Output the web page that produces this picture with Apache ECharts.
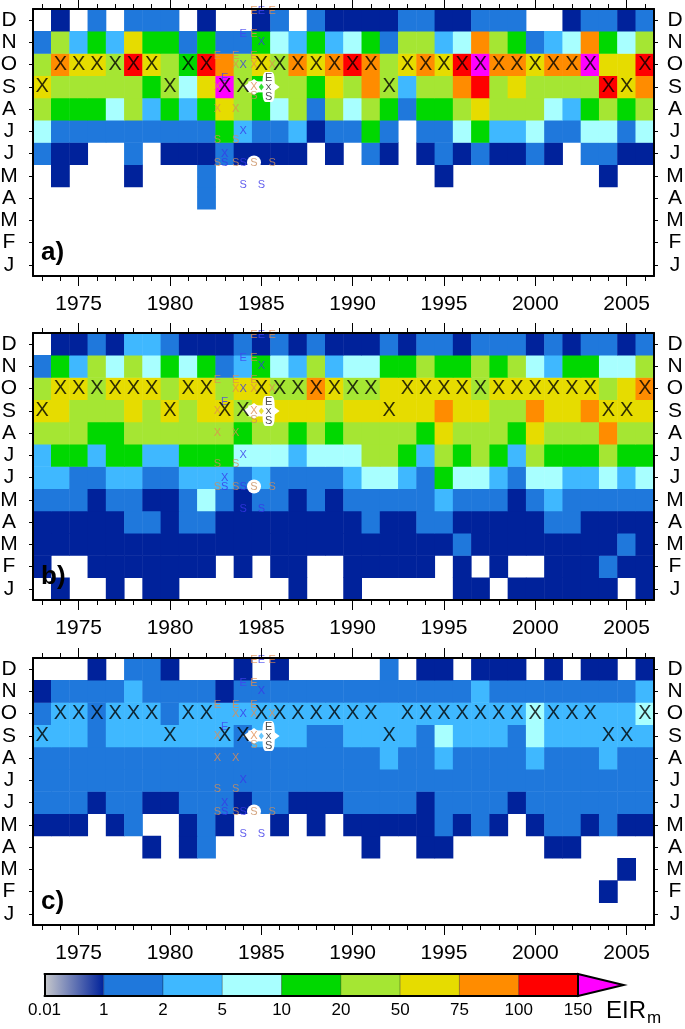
<!DOCTYPE html>
<html><head><meta charset="utf-8">
<style>html,body{margin:0;padding:0;background:#fff}#c{width:685px;height:1029px}</style>
<script src="https://cdn.jsdelivr.net/npm/echarts@6/dist/echarts.min.js"></script>
</head><body><div id="c"></div>
<script>
// Years and months (bottom to top on the axis)
const years = [1973,1974,1975,1976,1977,1978,1979,1980,1981,1982,1983,1984,1985,1986,1987,1988,1989,1990,1991,1992,1993,1994,1995,1996,1997,1998,1999,2000,2001,2002,2003,2004,2005,2006];
const months = ['J','F','M','A','M','J','J','A','S','O','N','D'];

// EIR class per cell: 0 no value, 1 <1, 2 1-2, 3 2-5, 4 5-10, 5 10-20, 6 20-50, 7 50-75, 8 75-100, 9 100-150, 10 >150
const aDec = [0,1,0,2,0,2,2,2,0,1, 0,0,1,2,0,2,1,1,1,1, 2,2,1,1,2,2,2,0,0,1, 2,2,1,2];
const aNov = [2,6,3,5,3,7,5,5,2,5, 2,2,5,4,3,5,3,4,5,2, 6,6,3,4,8,6,5,2,3,4, 8,5,4,6];
const aOct = [6,8,7,7,6,9,7,6,5,9, 8,6,7,6,8,7,8,9,8,6, 7,8,7,9,10,8,8,7,8,8, 10,7,7,9];
const aSep = [7,6,6,6,6,6,5,6,4,7, 10,6,5,6,6,5,7,6,8,6, 3,6,6,8,9,6,7,6,6,6, 6,9,7,8];
const aAug = [6,5,5,5,4,6,3,5,3,5, 7,6,5,4,6,2,6,4,6,5, 2,5,5,6,7,6,6,6,4,3, 5,6,5,6];
const aJul = [4,2,2,2,2,2,2,2,2,2, 5,3,2,2,3,1,2,2,5,2, 0,2,2,4,5,3,3,4,2,2, 4,4,2,4];
const aJun = [2,1,1,0,0,2,0,1,1,1, 2,1,1,1,1,0,1,0,2,1, 0,1,2,1,2,1,1,2,1,0, 2,2,1,1];
const aMay = [0,1,0,0,0,1,0,0,0,2, 0,0,0,0,0,0,0,0,0,0, 0,0,1,0,0,0,0,0,0,0, 0,1,0,0];
const aApr = [0,0,0,0,0,0,0,0,0,2, 0,0,0,0,0,0,0,0,0,0, 0,0,0,0,0,0,0,0,0,0, 0,0,0,0];
const aMar = [0,0,0,0,0,0,0,0,0,0, 0,0,0,0,0,0,0,0,0,0, 0,0,0,0,0,0,0,0,0,0, 0,0,0,0];
const aFeb = [0,0,0,0,0,0,0,0,0,0, 0,0,0,0,0,0,0,0,0,0, 0,0,0,0,0,0,0,0,0,0, 0,0,0,0];
const aJan = [0,0,0,0,0,0,0,0,0,0, 0,0,0,0,0,0,0,0,0,0, 0,0,0,0,0,0,0,0,0,0, 0,0,0,0];

const bDec = [0,1,1,2,1,3,3,2,1,1, 1,2,1,2,1,2,1,1,1,2, 1,2,2,1,2,2,2,1,2,1, 2,2,1,2];
const bNov = [2,5,3,6,4,6,4,5,4,5, 2,3,5,4,3,6,3,4,4,5, 5,6,5,5,6,5,6,4,3,5, 5,4,4,6];
const bOct = [6,7,7,6,7,7,7,6,7,7, 6,7,7,6,6,8,7,6,6,7, 7,7,7,7,6,7,7,7,7,7, 7,6,7,8];
const bSep = [7,7,6,6,6,7,6,7,6,7, 7,6,7,7,7,7,6,7,7,7, 7,7,8,7,7,6,6,8,7,7, 8,7,7,7];
const bAug = [6,6,6,5,5,6,6,6,6,6, 6,5,6,6,5,6,5,6,6,6, 6,5,7,6,6,6,5,7,6,6, 6,8,6,6];
const bJul = [3,5,5,3,5,5,3,3,5,5, 5,4,4,4,3,4,4,4,6,6, 5,3,6,5,6,5,3,6,5,5, 5,6,5,5];
const bJun = [3,3,2,2,3,3,2,2,3,3, 3,2,3,2,2,2,2,3,4,4, 3,2,5,4,4,3,2,4,4,3, 3,4,3,4];
const bMay = [2,2,2,1,2,2,1,1,2,4, 2,1,2,2,1,2,1,2,2,2, 2,2,3,2,2,2,1,2,3,2, 2,2,2,2];
const bApr = [1,1,1,1,1,2,2,1,2,2, 1,1,1,1,1,1,1,1,2,1, 1,2,2,1,1,1,1,1,2,2, 1,1,1,1];
const bMar = [1,1,1,1,1,1,1,1,1,1, 1,1,1,1,1,1,1,1,1,1, 1,1,1,2,1,1,1,1,1,1, 1,1,2,1];
const bFeb = [1,0,0,1,1,1,1,1,1,1, 0,1,0,1,1,0,0,1,1,1, 1,1,0,1,0,1,0,0,1,1, 1,2,1,1];
const bJan = [0,1,0,0,1,0,1,1,0,0, 0,0,0,0,1,0,0,1,0,0, 0,0,0,1,1,0,1,1,1,1, 1,1,0,1];

const cDec = [0,0,0,1,0,2,2,1,0,0, 0,1,0,1,0,0,0,0,0,2, 0,1,1,0,1,1,1,0,1,0, 1,1,0,1];
const cNov = [1,2,2,2,2,3,2,2,2,2, 1,2,2,2,2,2,2,2,2,2, 2,2,2,2,3,2,2,2,2,2, 2,2,2,3];
const cOct = [2,3,3,2,3,3,3,2,3,3, 3,3,3,3,3,3,3,3,3,3, 3,3,3,3,3,3,3,4,3,3, 3,3,3,4];
const cSep = [3,3,3,2,3,3,3,3,3,3, 3,2,3,3,3,2,2,3,3,3, 3,2,4,3,3,3,2,4,3,3, 3,3,3,3];
const cAug = [2,2,2,2,2,2,2,2,2,2, 2,2,2,2,2,2,2,2,2,3, 2,2,3,2,2,2,2,3,2,2, 2,3,2,2];
const cJul = [2,2,2,2,2,2,2,2,2,2, 2,2,2,2,2,2,2,2,2,2, 2,2,2,2,2,2,2,2,2,2, 2,2,2,2];
const cJun = [2,2,2,1,2,2,1,1,2,2, 2,1,2,2,1,1,1,2,2,2, 2,1,2,2,2,2,1,2,2,2, 2,2,2,2];
const cMay = [1,1,1,0,1,2,0,0,1,2, 1,0,0,1,0,1,0,1,1,1, 1,1,2,1,2,1,0,1,2,2, 1,2,1,1];
const cApr = [0,0,0,0,0,0,1,0,1,2, 0,0,0,0,0,0,0,0,1,0, 0,1,1,0,0,0,0,0,1,1, 0,0,0,0];
const cMar = [0,0,0,0,0,0,0,0,0,0, 0,0,0,0,0,0,0,0,0,0, 0,0,0,0,0,0,0,0,0,0, 0,0,1,0];
const cFeb = [0,0,0,0,0,0,0,0,0,0, 0,0,0,0,0,0,0,0,0,0, 0,0,0,0,0,0,0,0,0,0, 0,1,0,0];
const cJan = [0,0,0,0,0,0,0,0,0,0, 0,0,0,0,0,0,0,0,0,0, 0,0,0,0,0,0,0,0,0,0, 0,0,0,0];

// Month of the big X for each year (8 = September, 9 = October)
const peakMonth = [8,9,9,9,9,9,9,8,9,9, 8,8,9,9,9,9,9,9,9,8, 9,9,9,9,9,9,9,9,9,9, 9,8,8,9];

// Small overlay letters, [year position, month position] (row J = 0..1, row D = 11..12)
const tanE  = [[1984.6,11.89],[1985.6,11.89],[1984.6,10.9],[1982.6,9.9],[1983.6,9.9],[1984.6,9.9]];
const blueE = [[1985,11.89],[1984,10.9],[1983,8.9]];
const tanX  = [[1983.6,9.5],[1984.6,9.5],[1985.6,9.5],[1982.6,8.5],[1984.6,8.5],[1982.6,7.5],[1983.6,7.5]];
const blueX = [[1985,10.5],[1984,9.5],[1984,6.5],[1983,5.5]];
const tanS  = [[1984.6,8.07],[1982.6,6.1],[1983.6,6.1],[1982.6,5.1],[1983.6,5.1],[1984.6,5.1],[1985.6,5.1]];
const blueS = [[1983,5.1],[1984,5.1],[1984,4.1],[1985,4.1]];
const blackE = [[1985.4,8.92]];
const blackX = [[1985.4,8.45]];
const blackS = [[1985.4,8.05]];

// Colour bar
const legendTicks = ['0.01','1','2','5','10','20','50','75','100','150'];
const classColors = ['#00229b','#1f78dc','#3fb8ff','#a8ffff','#00d800','#a5e633','#e6dc00','#ff8c00','#ff0000','#ff00ff'];
const legendSlots = [0,1,2,3,4,5,6,7,8];

const panels = [
  {tag:'a)', top:9,   rows:[aJan,aFeb,aMar,aApr,aMay,aJun,aJul,aAug,aSep,aOct,aNov,aDec]},
  {tag:'b)', top:333, rows:[bJan,bFeb,bMar,bApr,bMay,bJun,bJul,bAug,bSep,bOct,bNov,bDec]},
  {tag:'c)', top:658, rows:[cJan,cFeb,cMar,cApr,cMay,cJun,cJul,cAug,cSep,cOct,cNov,cDec]}
];

const FONT = '"Liberation Sans", Arial, sans-serif';
const grids = [], xAxes = [], yAxes = [], series = [], graphics = [], heatIdx = [];
const isMajor = (i, v) => (+v) % 5 === 0;

panels.forEach((p, k) => {
  grids.push({left:33, top:p.top, width:621, height:267, show:false, outerBoundsMode:'none', containLabel:false});
  const xb = xAxes.length, yb = yAxes.length;
  const base = {gridIndex:k, type:'category', data:years.map(String), z:10};
  const line = {show:true, lineStyle:{color:'#000', width:2}};
  const off = {show:false};
  const tick = (len, interval) => ({show:true, alignWithLabel:true, length:len, interval, lineStyle:{color:'#000', width:1}});
  xAxes.push({...base, position:'bottom', axisLine:line, axisTick:tick(5, 0), axisLabel:off});
  xAxes.push({...base, position:'bottom', axisLine:off, axisTick:tick(10, isMajor),
    axisLabel:{show:true, interval:isMajor, margin:18, color:'#000', fontSize:21, fontFamily:FONT}});
  xAxes.push({...base, position:'top', axisLine:line, axisTick:tick(5, 0), axisLabel:off});
  xAxes.push({...base, position:'top', axisLine:off, axisTick:tick(10, isMajor), axisLabel:off});
  xAxes.push({gridIndex:k, type:'value', min:1972.5, max:2006.5, show:false});

  const ybase = {gridIndex:k, type:'category', data:months, z:10, axisLine:line,
    axisTick:{show:true, alignWithLabel:true, length:4, interval:0, lineStyle:{color:'#000', width:1}}};
  const ylab = (margin) => ({show:true, interval:0, margin, align:'center', padding:[12,0,0,0], color:'#000', fontSize:21, fontFamily:FONT});
  yAxes.push({...ybase, position:'left', axisLabel:ylab(24)});
  yAxes.push({...ybase, position:'right', axisLabel:ylab(21)});
  yAxes.push({gridIndex:k, type:'value', min:0, max:12, show:false});

  const cells = [];
  p.rows.forEach((row, m) => row.forEach((v, i) => { if (v > 0) cells.push([i, m, v]); }));
  heatIdx.push(series.length);
  series.push({type:'heatmap', name:'EIR '+p.tag, xAxisIndex:xb, yAxisIndex:yb, data:cells,
    itemStyle:{borderWidth:0}, emphasis:{disabled:true}, z:2});

  const ov = {xAxisIndex:xb+4, yAxisIndex:yb+2};
  const letter = (name, data, text, color, size, z, extra) => series.push({...ov, type:'scatter', name, data,
    symbol:'circle', symbolSize:1, itemStyle:{color:'rgba(0,0,0,0)'}, silent:true, z:z||6,
    label:{show:true, position:'inside', formatter:text, color, fontSize:size, fontFamily:FONT, ...(extra||{})}});
  const halo = (name, data, symbol, size) => series.push({...ov, type:'scatter', name, data, symbol, symbolSize:size,
    itemStyle:{color:'#fff', opacity:1}, silent:true, z:4});

  // White halos round the marked letters
  halo('halo1', [[1984.6,5.1]], 'circle', 14);
  halo('halo2', [[1985.4,8.5]], 'roundRect', [12,30]);
  halo('halo3', [[1984.6,8.5],[1985.4,8.5]], 'diamond', [22,16]);
  halo('halo4', [[1985,8.5]], 'rect', [26,11]);
  // The middle of the halo keeps the cell's colour as a small diamond
  series.push({...ov, type:'scatter', name:'centre', data:[[1985,8.5]], symbol:'diamond', symbolSize:[5,7],
    itemStyle:{color:classColors[p.rows[8][12]-1]}, silent:true, z:5});

  letter('bigX', peakMonth.map((m,i)=>[years[i], m+0.5]), 'X', '#000', 20, 7);
  letter('tanE', tanE, 'E', '#e08c50', 11);
  letter('blueE', blueE, 'E', '#4444f0', 11);
  letter('tanX', tanX, 'X', '#e08c50', 11);
  letter('blueX', blueX, 'X', '#3a36e8', 11);
  letter('tanS', tanS, 'S', '#c98e60', 11);
  letter('blueS', blueS, 'S', '#3a36e8', 11);
  letter('blackE', blackE, 'E', '#222', 11, 8);
  letter('blackX', blackX, 'X', '#222', 9, 8);
  letter('blackS', blackS, 'S', '#222', 11, 8);

  graphics.push({type:'text', left:41, top:p.top+231, z:50, style:{text:p.tag, fill:'#000',
    font:'bold 26px '+FONT}});
});

// Colour bar: value axis whose ticks are the class boundaries
const gLeg = grids.length;
grids.push({left:44.5, top:974, width:533.5, height:22, show:false, outerBoundsMode:'none', containLabel:false});
const xLeg = xAxes.length, yLeg = yAxes.length;
const barLine = {show:true, lineStyle:{color:'#000', width:2}};
xAxes.push({gridIndex:gLeg, type:'value', min:0, max:9, interval:1, position:'bottom', z:10,
  axisLine:barLine, axisTick:{show:false}, splitLine:{show:false},
  axisLabel:{show:true, margin:6, color:'#000', fontSize:17, fontFamily:FONT, hideOverlap:false,
    showMinLabel:true, showMaxLabel:true, formatter:(v)=>legendTicks[Math.round(v)]}});
xAxes.push({gridIndex:gLeg, type:'value', min:0, max:9, interval:1, position:'top', z:10,
  axisLine:barLine, axisTick:{show:false}, axisLabel:{show:false}, splitLine:{show:false}});
yAxes.push({gridIndex:gLeg, type:'value', min:0, max:1, interval:1, position:'left', z:10,
  axisLine:barLine, axisTick:{show:false}, axisLabel:{show:false}, splitLine:{show:false}});
series.push({type:'custom', name:'colour bar', xAxisIndex:xLeg, yAxisIndex:yLeg, data:legendSlots.map(i=>[i]), silent:true, z:3,
  encode:{x:0},
  renderItem:(params, api) => {
    const i = api.value(0), a = api.coord([i,1]), b = api.coord([i+1,0]);
    const fill = i === 0
      ? new echarts.graphic.LinearGradient(0,0,1,0,[{offset:0,color:'#c8c9cc'},{offset:1,color:classColors[0]}])
      : classColors[i];
    return {type:'rect', shape:{x:a[0], y:a[1], width:b[0]-a[0], height:b[1]-a[1]},
      style:{fill, stroke:'rgba(0,0,0,0.25)', lineWidth:i===0?0:1}};
  }});
series.push({type:'custom', name:'over-range', xAxisIndex:xLeg, yAxisIndex:yLeg, data:[[9]], silent:true, z:3,
  encode:{x:0},
  renderItem:(params, api) => {
    const p0 = api.coord([9,1]), p1 = api.coord([9.77,0.5]), p2 = api.coord([9,0]);
    return {type:'polygon', shape:{points:[p0,p1,p2]}, style:{fill:classColors[9], stroke:'#000', lineWidth:2}};
  }});

graphics.push({type:'text', left:606, top:999, z:50, style:{text:'EIR', fill:'#000', font:'24px '+FONT}});
graphics.push({type:'text', left:647, top:1010, z:50, style:{text:'m', fill:'#000', font:'17px '+FONT}});

const pieces = classColors.map((color,i)=>({value:i+1, color}));
const chart = echarts.init(document.getElementById('c'), null, {renderer:'canvas'});
chart.setOption({
  animation:false, backgroundColor:'#fff',
  grid:grids, xAxis:xAxes, yAxis:yAxes,
  visualMap:{type:'piecewise', show:false, dimension:2, seriesIndex:heatIdx, pieces},
  tooltip:{show:false}, series, graphic:graphics
});
</script></body></html>
